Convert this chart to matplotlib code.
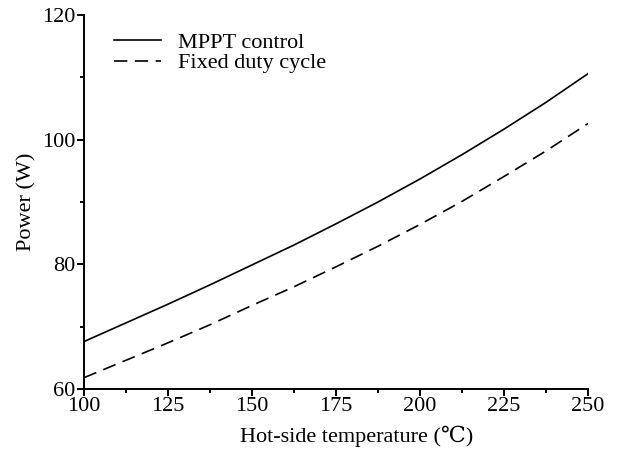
import matplotlib
matplotlib.use("Agg")
import matplotlib.pyplot as plt
from matplotlib.ticker import MultipleLocator

#--------------------- data ---------------------
temperature = [100, 112.5, 125, 137.5, 150, 162.5, 175, 187.5, 200, 212.5, 225, 237.5, 250]
power_mppt = [67.6, 70.6, 73.6, 76.7, 79.9, 83.1, 86.5, 90.0, 93.7, 97.6, 101.7, 106.0, 110.6]
power_fixed = [61.8, 64.6, 67.4, 70.3, 73.4, 76.4, 79.6, 82.9, 86.4, 90.1, 94.1, 98.2, 102.6]

X_TICKS = [100, 125, 150, 175, 200, 225, 250]
Y_TICKS = [60, 80, 100, 120]

plt.rcParams['font.family'] = ['Liberation Serif', 'DejaVu Serif']

fig = plt.figure(figsize=(6.2, 4.57), dpi=100)
ax = fig.add_axes([0.1355, 0.149, 0.813, 0.818])

ax.plot(temperature, power_mppt, color='black', lw=1.2, label='MPPT control')
ax.plot(temperature, power_fixed, color='black', lw=1.2, dashes=(8, 4.5), label='Fixed duty cycle')

ax.set_xlim(100, 250)
ax.set_ylim(60, 120)
ax.set_xticks(X_TICKS)
ax.set_yticks(Y_TICKS)
ax.xaxis.set_minor_locator(MultipleLocator(12.5))
ax.yaxis.set_minor_locator(MultipleLocator(10))

for side in ['top', 'right']:
    ax.spines[side].set_visible(False)
for side in ['left', 'bottom']:
    ax.spines[side].set_linewidth(1.4)

ax.tick_params(which='major', direction='out', length=5, width=1.4, labelsize=16, pad=1)
ax.tick_params(which='minor', direction='out', length=3, width=1.4)

ax.set_xlabel('Hot-side temperature (\u2103)', fontsize=16)
ax.xaxis.set_label_coords(0.54, -0.098)
ax.set_ylabel('Power (W)', fontsize=16, labelpad=4)

ax.legend(loc='upper left', bbox_to_anchor=(0.038, 0.984), frameon=False, fontsize=16,
          handlelength=2.1, handletextpad=0.75, labelspacing=0.0, borderaxespad=0.1)

fig.savefig('out.png', dpi=100)
